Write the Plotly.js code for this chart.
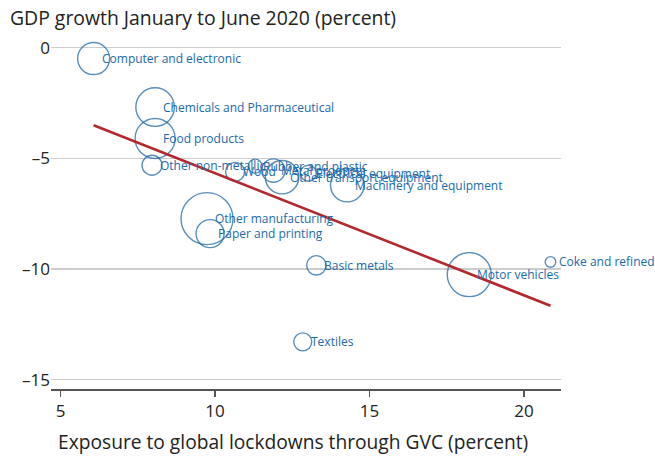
<!DOCTYPE html>
<html>
<head>
<meta charset="utf-8">
<script src="https://cdn.plot.ly/plotly-3.0.1.min.js"></script>
<style>html,body{margin:0;padding:0;background:#fff;}#chart{width:655px;height:457px;}</style>
</head>
<body>
<div id="chart"></div>
<script>
// Sector names
const sectors = [
  "Computer and electronic", "Chemicals and Pharmaceutical", "Food products",
  "Other non-metallic", "Wood", "Rubber and plastic", "Metal products",
  "Other transport equipment", "Electrical equipment", "Machinery and equipment",
  "Other manufacturing", "Paper and printing", "Basic metals", "Motor vehicles",
  "Coke and refined", "Textiles"
];
// Exposure to global lockdowns through GVC (percent)
const exposure = [6.07, 8.06, 8.06, 7.96, 10.65, 11.30, 11.89, 12.17, 13.02, 14.28, 9.74, 9.84, 13.28, 18.23, 20.86, 12.84];
// GDP growth January to June 2020 (percent)
const growth = [-0.49, -2.68, -4.10, -5.31, -5.61, -5.35, -5.55, -5.85, -5.67, -6.21, -7.72, -8.40, -9.83, -10.25, -9.68, -13.29];
// Bubble weights (relative sector size)
const weight = [25.6, 37.2, 40, 10, 9, 4.9, 13.7, 27.9, 6.4, 27.9, 67.6, 19.6, 9.4, 48.4, 2.8, 8.1];
// Fitted line end points
const fitX = [6.07, 20.86];
const fitY = [-3.50, -11.66];
// Axis ticks
const xTicks = [5, 10, 15, 20];
const yTicks = [0, -5, -10, -15];

const FONT = "'Open Sans', Lato, sans-serif";
const BLUE_LINE = "#13609f";
const BLUE_TEXT = "#1a6aab";
const RED = "#b3282d";

const bubbles = {
  type: "scatter", mode: "markers",
  x: exposure, y: growth, text: sectors,
  marker: {
    size: weight, sizemode: "area", sizeref: 0.05,
    color: "rgba(0,0,0,0)",
    line: {color: BLUE_LINE, width: 1.4}
  },
  hoverinfo: "text", showlegend: false, cliponaxis: false
};
const fit = {
  type: "scatter", mode: "lines",
  x: fitX, y: fitY,
  line: {color: RED, width: 2.6},
  hoverinfo: "skip", showlegend: false
};

const annotations = sectors.map((s, i) => ({
  x: exposure[i], y: growth[i], xref: "x", yref: "y",
  text: s, showarrow: false, xanchor: "left", yanchor: "middle",
  xshift: 6, font: {family: FONT, size: 12, color: BLUE_TEXT}
}));
annotations.push({
  xref: "paper", yref: "paper", x: 0.475, y: -0.147,
  xanchor: "center", yanchor: "middle", showarrow: false,
  text: "Exposure to global lockdowns through GVC (percent)",
  font: {family: FONT, size: 19.2, color: "#222"}
});

const layout = {
  width: 655, height: 457,
  margin: {l: 51, r: 94, t: 34, b: 68, pad: 0},
  paper_bgcolor: "#fff", plot_bgcolor: "#fff",
  title: {
    text: "GDP growth January to June 2020 (percent)",
    x: 10/655, xref: "container", xanchor: "left",
    y: 1 - 18/457, yref: "container", yanchor: "middle",
    font: {family: FONT, size: 19.4, color: "#222"}
  },
  xaxis: {
    range: [4.69, 21.2], tickvals: xTicks, ticktext: xTicks.map(String),
    showgrid: false, zeroline: false,
    showline: true, linecolor: "#555", linewidth: 2,
    ticks: "outside", ticklen: 6, tickwidth: 1.2, tickcolor: "#555",
    tickfont: {family: FONT, size: 17, color: "#222"}
  },
  yaxis: {
    range: [-15.42, 0.62], tickvals: yTicks, ticktext: yTicks.map(v => v < 0 ? "\u2013" + Math.abs(v) : String(v)),
    showgrid: true, gridcolor: "#cdcdcd", gridwidth: 1.2,
    zeroline: false, showline: false, ticks: "",
    tickfont: {family: FONT, size: 17, color: "#222"}
  },
  annotations: annotations,
  font: {family: FONT}
};

Plotly.newPlot("chart", [bubbles, fit], layout, {displayModeBar: false, staticPlot: true});
</script>
</body>
</html>
